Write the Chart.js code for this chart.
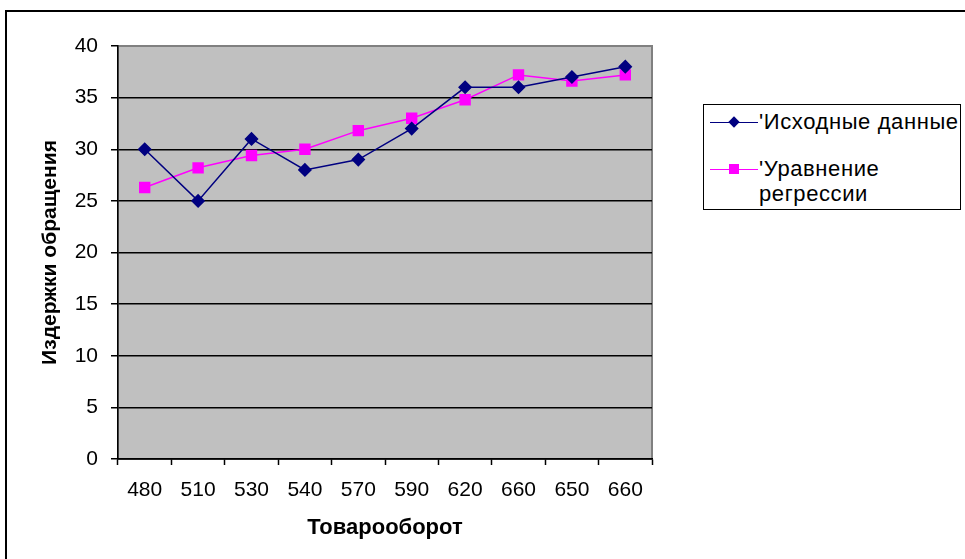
<!DOCTYPE html>
<html>
<head>
<meta charset="utf-8">
<script src="https://cdn.jsdelivr.net/npm/chart.js@4"></script>
<style>
  html, body { margin: 0; padding: 0; background: #fff; }
  body { width: 965px; height: 559px; position: relative; overflow: hidden; font-family: "Liberation Sans", Arial, sans-serif; }
  #frame { position: absolute; left: 5px; top: 10px; width: 1000px; height: 600px; border: 2px solid #000; box-sizing: border-box; }
  #wrap { position: absolute; left: 0; top: 0; width: 965px; height: 559px; }
  #legend { position: absolute; left: 703px; top: 104px; width: 258px; height: 106px; border: 1.5px solid #000; box-sizing: border-box; background: #fff; }
  .item { position: absolute; left: 0; }
  .sym { position: absolute; left: 6px; width: 48px; height: 0; border-top: 1.5px solid; }
  .mk { position: absolute; }
  .txt { position: absolute; left: 55px; font-size: 22px; line-height: 25px; letter-spacing: 0.6px; color: #000; white-space: nowrap; }
</style>
</head>
<body>
<div id="frame"></div>
<div id="wrap"><canvas id="c" width="965" height="559"></canvas></div>
<div id="legend"></div>
<script>
// Turnover categories along the x axis
const categories = ['480', '510', '530', '540', '570', '590', '620', '660', '650', '660'];
// Observed distribution costs
const sourceData = [30, 25, 31, 28, 29, 32, 36, 36, 37, 38];
// Values from the fitted regression equation
const regressionData = [26.3, 28.2, 29.4, 30.0, 31.8, 33.0, 34.8, 37.2, 36.6, 37.2];
const seriesNames = ["'Исходные данные", "'Уравнение регрессии"];
const yTicks = [0, 5, 10, 15, 20, 25, 30, 35, 40];

const FONT = "'Liberation Sans', Arial, sans-serif";

// Grey plot area with a thin grey frame behind the grid
const plotBackground = {
  id: 'plotBackground',
  beforeDraw(chart) {
    const { ctx, chartArea: a } = chart;
    ctx.save();
    ctx.fillStyle = '#C0C0C0';
    ctx.fillRect(a.left, a.top, a.right - a.left, a.bottom - a.top);
    ctx.strokeStyle = '#808080';
    ctx.lineWidth = 2;
    ctx.strokeRect(a.left, a.top, a.right - a.left, a.bottom - a.top);
    ctx.restore();
  }
};

new Chart(document.getElementById('c'), {
  type: 'line',
  data: {
    labels: categories,
    datasets: [
      {
        label: seriesNames[0],
        data: sourceData,
        borderColor: '#000080',
        backgroundColor: '#000080',
        borderWidth: 1.5,
        pointStyle: 'rectRot',
        pointRadius: 6,
        pointHoverRadius: 6,
        tension: 0
      },
      {
        label: seriesNames[1],
        data: regressionData,
        borderColor: '#FF00FF',
        backgroundColor: '#FF00FF',
        borderWidth: 1.5,
        pointStyle: 'rect',
        pointRadius: 7,
        pointHoverRadius: 7,
        tension: 0
      }
    ]
  },
  options: {
    responsive: false,
    animation: false,
    events: [],
    layout: { padding: { left: 0, top: 46, right: 313, bottom: 0 } },
    plugins: { legend: { display: false }, tooltip: { enabled: false } },
    scales: {
      x: {
        offset: true,
        grid: { offset: true, drawOnChartArea: false, drawTicks: true, tickLength: 6, tickColor: '#000', tickWidth: 1.5 },
        border: { display: true, color: '#000', width: 1.5 },
        ticks: { color: '#000', font: { family: FONT, size: 21 }, padding: 13, maxRotation: 0, autoSkip: false },
        title: { display: true, text: 'Товарооборот', color: '#000', font: { family: FONT, size: 22, weight: 'bold' }, padding: { top: 0, bottom: 18 } },
        afterFit(scale) { scale.height = 100; }
      },
      y: {
        min: 0,
        max: 40,
        afterBuildTicks(scale) { scale.ticks = yTicks.map(v => ({ value: v })); },
        grid: {
          color: ctx => (ctx.tick && ctx.tick.value === 40) ? 'rgba(0,0,0,0)' : '#000',
          lineWidth: 1.5,
          drawTicks: true,
          tickLength: 7,
          tickColor: '#000',
          tickWidth: 1.5
        },
        border: { display: true, color: '#000', width: 1.5 },
        ticks: { color: '#000', font: { family: FONT, size: 21 }, padding: 13 },
        title: { display: true, text: 'Издержки обращения', color: '#000', font: { family: FONT, size: 21, weight: 'bold' }, padding: { top: 38, bottom: 0 } },
        afterFit(scale) { scale.width = 118; }
      }
    }
  },
  plugins: [plotBackground]
});

// Legend box with line-and-marker keys
const legend = document.getElementById('legend');
const legendItems = [
  { color: '#000080', marker: 'diamond', lines: ["'Исходные данные"], top: 4 },
  { color: '#FF00FF', marker: 'square', lines: ["'Уравнение", 'регрессии'], top: 51 }
];
legendItems.forEach(it => {
  const item = document.createElement('div');
  item.className = 'item';
  item.style.top = it.top + 'px';
  const sym = document.createElement('div');
  sym.className = 'sym';
  sym.style.top = '13px';
  sym.style.borderTopColor = it.color;
  item.appendChild(sym);
  const mk = document.createElement('div');
  mk.className = 'mk';
  if (it.marker === 'diamond') {
    mk.style.cssText = `left:26px;top:9px;width:8px;height:8px;background:${it.color};transform:rotate(45deg);`;
  } else {
    mk.style.cssText = `left:25px;top:8px;width:10px;height:10px;background:${it.color};`;
  }
  item.appendChild(mk);
  const txt = document.createElement('div');
  txt.className = 'txt';
  txt.innerHTML = it.lines.join('<br>');
  item.appendChild(txt);
  legend.appendChild(item);
});
</script>
</body>
</html>
